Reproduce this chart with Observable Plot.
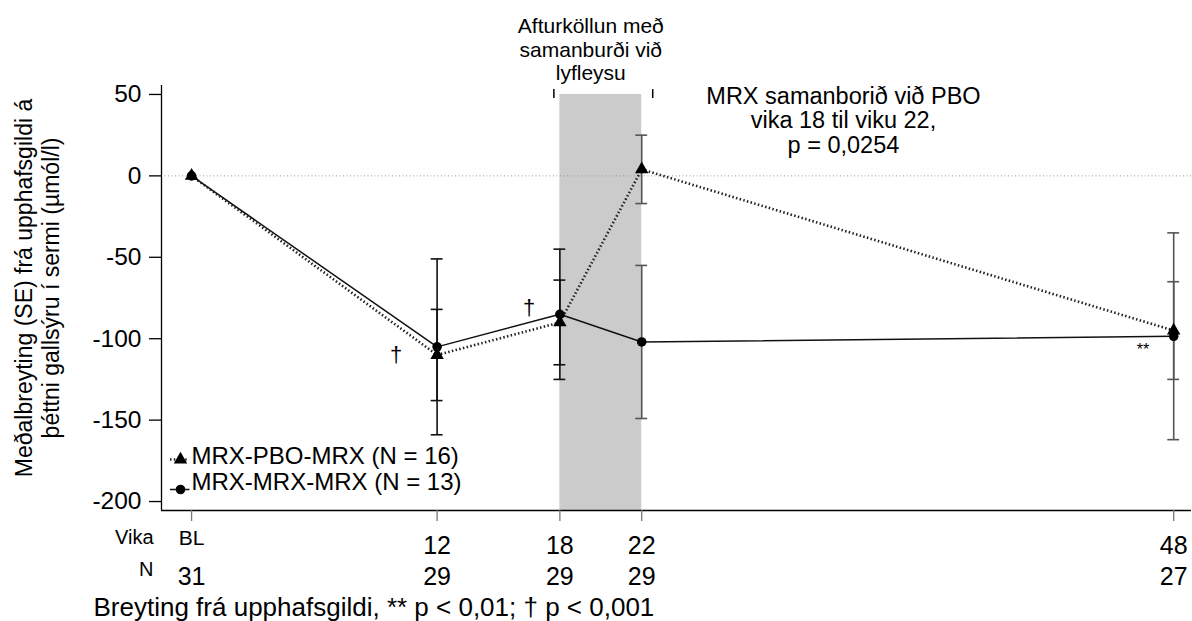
<!DOCTYPE html>
<html>
<head>
<meta charset="utf-8">
<script src="https://cdn.jsdelivr.net/npm/d3@7"></script>
<script src="https://cdn.jsdelivr.net/npm/@observablehq/plot@0.6"></script>
<style>
  html, body { margin: 0; padding: 0; background: #fff; }
  #chart svg { display: block; }
</style>
</head>
<body>
<div id="chart"></div>
<script>
// ---- data ----
const weeks = [0, 12, 18, 22, 48];
const weekLabels = ["BL", "12", "18", "22", "48"];
const nValues = [31, 29, 29, 29, 27];

const seriesNames = ["MRX-PBO-MRX (N = 16)", "MRX-MRX-MRX (N = 13)"];
const pboMean = [0, -110, -90, 4, -95];
const pboSE   = [0, 28, 26, 21, 30];
const mrxMean = [0, -105, -85, -102, -98.5];
const mrxSE   = [0, 54, 40, 47, 63.5];

const yTicks = [50, 0, -50, -100, -150, -200];
const phaseWeeks = [18, 22];
const phaseTop = 50;
const phaseLabel = "Afturköllun með\nsamanburði við\nlyfleysu";
const noteWeek = [31.86];
const noteText = "MRX samanborið við PBO\nvika 18 til viku 22,\np = 0,0254";

const sigWeeks = [10, 16.5];
const sigValues = [-110, -81];
const sigLabels = ["†", "†"];
const sig2Weeks = [46.5];
const sig2Values = [-107];
const sig2Labels = ["**"];

const yTitle = "Meðalbreyting (SE) frá upphafsgildi á\nþéttni gallsýru í sermi (µmól/l)";
const footnote = "Breyting frá upphafsgildi, ** p < 0,01; † p < 0,001";

// ---- tables built from arrays ----
const pbo = weeks.map((w, i) => ({week: w, mean: pboMean[i], se: pboSE[i], series: seriesNames[0]}));
const mrx = weeks.map((w, i) => ({week: w, mean: mrxMean[i], se: mrxSE[i], series: seriesNames[1]}));
const bars = [...pbo, ...mrx].filter(d => d.se > 0);
const weekRows = weeks.map((w, i) => ({week: w, label: weekLabels[i], n: nValues[i]}));
const sigRows = sigWeeks.map((w, i) => ({week: w, value: sigValues[i], label: sigLabels[i]}));
const sig2Rows = sig2Weeks.map((w, i) => ({week: w, value: sig2Values[i], label: sig2Labels[i]}));

const xDomain = [-1.47, 48.87];
const yDomain = [-205.5, 55.5];
const capHalf = 0.29;
const barColor = d => d.week >= 22 ? "#555" : "#111";
const FONT = "Liberation Sans, Arial, Helvetica, sans-serif";
const DOTS = "1.5,2.3";

const chart = Plot.plot({
  width: 1192,
  height: 621,
  marginLeft: 161,
  marginRight: 1,
  marginTop: 85,
  marginBottom: 111,
  x: {domain: xDomain},
  y: {domain: yDomain},
  style: {fontFamily: FONT, fontSize: "23px", color: "#000", background: "#fff", overflow: "visible"},
  marks: [
    // shaded withdrawal phase
    Plot.rect([phaseWeeks], {x1: d => d[0], x2: d => d[1], y1: yDomain[0], y2: phaseTop, fill: "#cbcbcb"}),
    Plot.ruleX([phaseWeeks[0]], {y1: phaseTop - 2.5, y2: phaseTop + 3, dx: -6, stroke: "#000", strokeWidth: 1.5}),
    Plot.ruleX([phaseWeeks[1]], {y1: phaseTop - 2.5, y2: phaseTop + 3, dx: 11, stroke: "#000", strokeWidth: 1.5}),
    // zero reference
    Plot.ruleY([0], {x1: xDomain[0], x2: xDomain[1], stroke: "#999", strokeWidth: 1, strokeDasharray: "1,2.5"}),
    // axes lines
    Plot.ruleX([xDomain[0]], {stroke: "#000", strokeWidth: 1.3}),
    Plot.ruleY([yDomain[0]], {stroke: "#000", strokeWidth: 1.3}),
    Plot.axisY({ticks: yTicks, tickSize: 12, tickPadding: 8, tickFormat: d => String(d), label: null, fontSize: 24.5, strokeWidth: 1.3}),
    Plot.axisX({ticks: weeks, tickSize: 11, tickFormat: () => "", label: null, stroke: "#777", strokeWidth: 1.3}),
    // error bars
    Plot.ruleX(bars, {x: "week", y1: d => d.mean - d.se, y2: d => d.mean + d.se, stroke: barColor, strokeWidth: 1.6}),
    Plot.ruleY(bars, {y: d => d.mean + d.se, x1: d => d.week - capHalf, x2: d => d.week + capHalf, stroke: barColor, strokeWidth: 1.6}),
    Plot.ruleY(bars, {y: d => d.mean - d.se, x1: d => d.week - capHalf, x2: d => d.week + capHalf, stroke: barColor, strokeWidth: 1.6}),
    // lines
    Plot.line(mrx, {x: "week", y: "mean", stroke: "#111", strokeWidth: 1.5}),
    Plot.line(pbo, {x: "week", y: "mean", stroke: "#222", strokeWidth: 2.6, strokeDasharray: DOTS, strokeLinecap: "butt"}),
    Plot.dot(mrx, {x: "week", y: "mean", r: 4.8, fill: "#000"}),
    Plot.dot(pbo, {x: "week", y: "mean", r: 5, symbol: "triangle", fill: "#000"}),
    // significance markers
    Plot.text(sigRows, {x: "week", y: "value", text: "label", fontSize: 22, lineAnchor: "middle", fill: "#000"}),
    Plot.text(sig2Rows, {x: "week", y: "value", text: "label", fontSize: 16, lineAnchor: "middle", fill: "#000"}),
    // top annotations
    Plot.text([phaseLabel], {x: (phaseWeeks[0] + phaseWeeks[1]) / 2, frameAnchor: "top", dx: -10, dy: -69, lineAnchor: "top", textAnchor: "middle", fontSize: 21, lineHeight: 1.12}),
    Plot.text([noteText], {x: noteWeek[0], frameAnchor: "top", dy: 1.5, lineAnchor: "top", textAnchor: "middle", fontSize: 23.5, lineHeight: 1.03}),
    // legend (inside frame, bottom-left)
    Plot.ruleY([yDomain[0]], {x1: xDomain[0], x2: xDomain[0] + 0.85, dx: 9, dy: -51, stroke: "#222", strokeWidth: 2.6, strokeDasharray: DOTS}),
    Plot.dot([seriesNames[0]], {frameAnchor: "bottom-left", dx: 19, dy: -51, r: 5, symbol: "triangle", fill: "#000"}),
    Plot.text([seriesNames[0]], {frameAnchor: "bottom-left", dx: 30, dy: -54.5, textAnchor: "start", lineAnchor: "middle", fontSize: 24}),
    Plot.ruleY([yDomain[0]], {x1: xDomain[0], x2: xDomain[0] + 0.95, dx: 9, dy: -21, stroke: "#111", strokeWidth: 1.5}),
    Plot.dot([seriesNames[1]], {frameAnchor: "bottom-left", dx: 19, dy: -21, r: 4.8, fill: "#000"}),
    Plot.text([seriesNames[1]], {frameAnchor: "bottom-left", dx: 30, dy: -28, textAnchor: "start", lineAnchor: "middle", fontSize: 24}),
    // x tick labels and N row
    Plot.text(weekRows.filter(d => d.week !== 0), {x: "week", text: "label", frameAnchor: "bottom", dy: 35.5, lineAnchor: "middle", textAnchor: "middle", fontSize: 25}),
    Plot.text(weekRows.filter(d => d.week === 0), {x: "week", text: "label", frameAnchor: "bottom", dy: 27.5, lineAnchor: "middle", textAnchor: "middle", fontSize: 21}),
    Plot.text(weekRows, {x: "week", text: d => String(d.n), frameAnchor: "bottom", dy: 66.5, lineAnchor: "middle", textAnchor: "middle", fontSize: 25}),
    Plot.text(["Vika"], {frameAnchor: "bottom-left", dx: -8, dy: 27.5, textAnchor: "end", lineAnchor: "middle", fontSize: 20}),
    Plot.text(["N"], {frameAnchor: "bottom-left", dx: -8, dy: 59.5, textAnchor: "end", lineAnchor: "middle", fontSize: 20}),
    // footnote
    Plot.text([footnote], {frameAnchor: "bottom-left", dx: -68, dy: 97, textAnchor: "start", lineAnchor: "middle", fontSize: 26}),
    // y title
    Plot.text([yTitle], {frameAnchor: "left", dx: -125, dy: -10, rotate: -90, textAnchor: "middle", lineAnchor: "middle", lineHeight: 1.2, fontSize: 23})
  ]
});
document.getElementById("chart").appendChild(chart);
</script>
</body>
</html>
